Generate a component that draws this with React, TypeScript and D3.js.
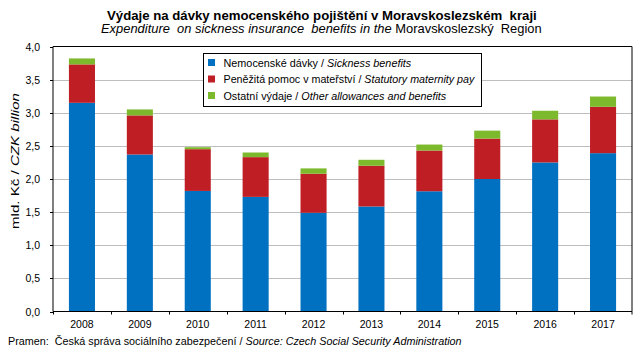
import React, { useLayoutEffect, useRef, useState } from "react";
import * as d3 from "d3";

const years = ["2008", "2009", "2010", "2011", "2012", "2013", "2014", "2015", "2016", "2017"];
const sickness = [3.15, 2.37, 1.82, 1.73, 1.49, 1.585, 1.815, 2.0, 2.25, 2.39];
const maternity = [0.58, 0.59, 0.63, 0.6, 0.59, 0.615, 0.615, 0.61, 0.65, 0.7];
const other = [0.09, 0.09, 0.03, 0.07, 0.08, 0.09, 0.09, 0.12, 0.13, 0.155];
const yTicks = [0, 0.5, 1, 1.5, 2, 2.5, 3, 3.5, 4];

const legendUpright = ["Nemocenské dávky / ", "Peněžitá pomoc v mateřství / ", "Ostatní výdaje / "];
const legendItalic = ["Sickness benefits", "Statutory maternity pay", "Other allowances and benefits"];

const seriesKeys = ["sickness", "maternity", "other"];
const colors = ["#0070C0", "#BE1E24", "#7DB92C"];

const FONT = "'Liberation Sans', Arial, sans-serif";

function FitText(props: any) {
  const { x, y, width, anchor = "start", rotate = 0, children, ...rest } = props;
  const ref = useRef<SVGTextElement>(null);
  const [s, setS] = useState(1);
  useLayoutEffect(() => {
    if (ref.current) {
      const w = ref.current.getComputedTextLength();
      if (w > 0) setS(width / w);
    }
  }, [width]);
  return (
    <text ref={ref} transform={`translate(${x},${y}) rotate(${rotate}) scale(${s},1)`} textAnchor={anchor} style={{ whiteSpace: "pre" }} {...rest}>
      {children}
    </text>
  );
}

export default function App() {
  const left = 53;
  const right = 632;
  const top = 46.5;
  const bottom = 311.5;

  const x = d3.scaleBand<string>().domain(years).range([left, right]).paddingInner(0.55).paddingOuter(0.275);
  const xb = d3.scaleBand<string>().domain(years).range([left, right]);
  const y = d3.scaleLinear().domain([0, 4]).range([bottom, top]);

  const table = years.map((yr, i) => ({ year: yr, sickness: sickness[i], maternity: maternity[i], other: other[i] }));
  const stacked = d3.stack<any>().keys(seriesKeys)(table);

  const fmt = (v: number) => v.toFixed(1).replace(".", ",");

  return (
    <svg width={643} height={359} style={{ position: "absolute", left: 0, top: 0, background: "#fff" }} fontFamily={FONT}>
      <rect x={0} y={0} width={643} height={359} fill="#fff" />
      {/* Title */}
      <FitText x={107} y={19.5} width={430} fontSize={13.5} fontWeight="bold" fill="#000">
        {"Výdaje na dávky nemocenského pojištění v Moravskoslezském  kraji"}
      </FitText>
      <FitText x={101} y={32.5} width={441} fontSize={12.5} fill="#000">
        <tspan fontStyle="italic">{"Expenditure  on sickness insurance  benefits in the "}</tspan>
        <tspan>{"Moravskoslezský  Region"}</tspan>
      </FitText>

      {/* gridlines */}
      {yTicks.filter((t) => t > 0 && t < 4).map((t) => (
        <line key={t} x1={left} x2={right} y1={Math.round(y(t)) + 0.5} y2={Math.round(y(t)) + 0.5} stroke="#BEBEBE" strokeWidth={1} />
      ))}

      {/* bars */}
      {stacked.map((s, si) => (
        <g key={si} fill={colors[si]}>
          {s.map((d, i) => (
            <rect key={i} x={x(years[i])!} width={x.bandwidth()} y={y(d[1])} height={y(d[0]) - y(d[1])} />
          ))}
        </g>
      ))}

      {/* plot border */}
      <line x1={left} x2={right} y1={top} y2={top} stroke="#000" strokeWidth={1} />
      <line x1={right} x2={right} y1={top} y2={bottom} stroke="#000" strokeWidth={1} />
      <line x1={left} x2={left} y1={top} y2={bottom} stroke="#000" strokeWidth={1} />
      <line x1={left} x2={right} y1={bottom} y2={bottom} stroke="#000" strokeWidth={1} />

      {/* y ticks */}
      {yTicks.map((t) => (
        <g key={t}>
          <line x1={left - 3} x2={left} y1={Math.round(y(t)) + 0.5} y2={Math.round(y(t)) + 0.5} stroke="#000" />
          <text x={40} y={y(t) + 4} textAnchor="end" fontSize={10.5} fill="#000">{fmt(t)}</text>
        </g>
      ))}

      {/* x ticks */}
      {years.map((yr) => (
        <line key={"t" + yr} x1={Math.round(xb(yr)!) + 0.5} x2={Math.round(xb(yr)!) + 0.5} y1={bottom} y2={bottom + 3} stroke="#000" />
      ))}
      <line x1={right} x2={right} y1={bottom} y2={bottom + 3} stroke="#000" />
      {years.map((yr) => (
        <text key={yr} x={x(yr)! + x.bandwidth() / 2} y={327.5} textAnchor="middle" fontSize={10.5} fill="#000">{yr}</text>
      ))}

      {/* y axis title */}
      <FitText x={19} y={161} rotate={-90} anchor="middle" width={136} fontSize={11} fill="#000">
        <tspan>{"mld. Kč / "}</tspan>
        <tspan fontStyle="italic">{"CZK billion"}</tspan>
      </FitText>

      {/* legend */}
      <rect x={203.5} y={53.5} width={278} height={53} fill="#fff" stroke="#000" strokeWidth={1} />
      {legendUpright.map((u, i) => {
        const cy = 62.5 + i * 16.5;
        const widths = [188, 251, 223];
        return (
          <g key={i}>
            <rect x={208} y={cy - 3.5} width={7} height={7} fill={colors[i]} />
            <FitText x={223.5} y={cy + 4} width={widths[i]} fontSize={11} fill="#000">
              <tspan>{u}</tspan>
              <tspan fontStyle="italic">{legendItalic[i]}</tspan>
            </FitText>
          </g>
        );
      })}

      {/* source */}
      <FitText x={8} y={345} width={454} fontSize={10.5} fill="#000">
        <tspan>{"Pramen:  Česká správa sociálního zabezpečení / "}</tspan>
        <tspan fontStyle="italic">{"Source: Czech Social Security Administration"}</tspan>
      </FitText>
    </svg>
  );
}
